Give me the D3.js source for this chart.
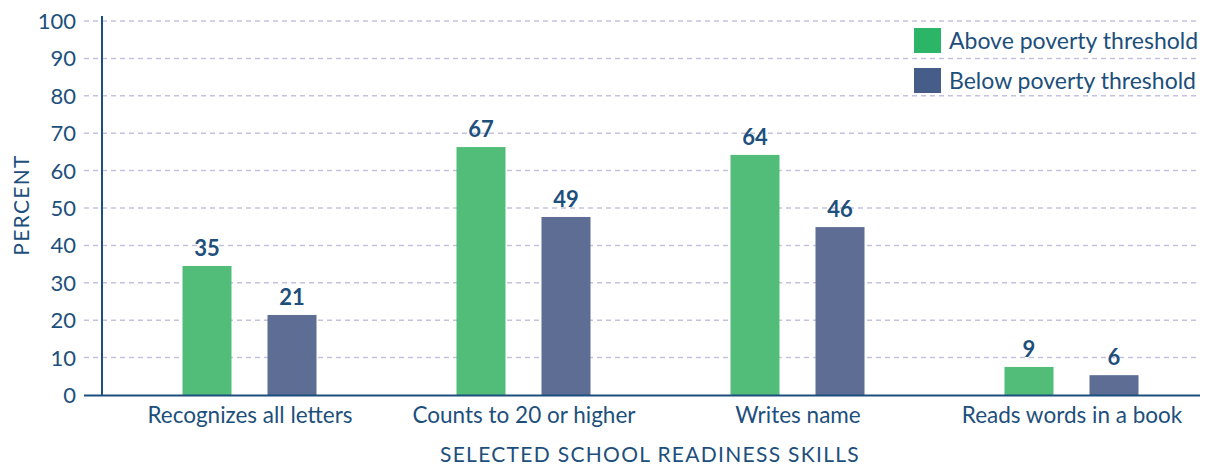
<!DOCTYPE html>
<html>
<head>
<meta charset="utf-8">
<script src="https://cdn.jsdelivr.net/npm/d3@7"></script>
<style>
  body { margin: 0; background: #fff; }
  text { font-family: Lato, "Open Sans", sans-serif; fill: #1d4f7c; }
</style>
</head>
<body>
<div id="chart"></div>
<script>
var categories = ["Recognizes all letters", "Counts to 20 or higher", "Writes name", "Reads words in a book"];
var seriesNames = ["Above poverty threshold", "Below poverty threshold"];
var aboveValues = [34.5, 66.3, 64.2, 7.5];
var belowValues = [21.4, 47.6, 44.9, 5.3];
var aboveLabels = ["35", "67", "64", "9"];
var belowLabels = ["21", "49", "46", "6"];
var yTicks = [0, 10, 20, 30, 40, 50, 60, 70, 80, 90, 100];

var barColors = ["#52bd78", "#5d6d94"];
var legendColors = ["#2db567", "#465d8a"];
var textColor = "#1d4f7c";

var svgWidth = 1205, svgHeight = 465;

var svg = d3.select("#chart").append("svg")
  .attr("width", svgWidth)
  .attr("height", svgHeight);

var yScale = d3.scaleLinear().domain([0, 100]).range([395, 21]);
var xScale = d3.scaleBand().domain(categories).range([113, 1209]);
var inner = d3.scaleOrdinal().domain([0, 1]).range([-43, 42]);
var barWidth = 49;

// gridlines
svg.append("g").selectAll("line")
  .data(yTicks.filter(d => d > 0))
  .enter().append("line")
  .attr("x1", 84).attr("x2", 1196)
  .attr("y1", d => yScale(d)).attr("y2", d => yScale(d))
  .attr("stroke", "#c3c3dc")
  .attr("stroke-width", 1.5)
  .attr("stroke-dasharray", "5,4");

// y tick labels
svg.append("g").selectAll("text")
  .data(yTicks)
  .enter().append("text")
  .attr("x", 76)
  .attr("y", d => yScale(d) + 8)
  .attr("text-anchor", "end")
  .style("font-size", "22px")
  .text(d => d);

// bars
var series = [
  { vals: aboveValues, labels: aboveLabels },
  { vals: belowValues, labels: belowLabels }
];

series.forEach(function(s, si) {
  var g = svg.append("g");
  g.selectAll("rect")
    .data(categories)
    .enter().append("rect")
    .attr("x", (d, i) => xScale(d) + xScale.bandwidth() / 2 + inner(si) - barWidth / 2)
    .attr("y", (d, i) => yScale(s.vals[i]))
    .attr("width", barWidth)
    .attr("height", (d, i) => yScale(0) - yScale(s.vals[i]))
    .attr("fill", barColors[si]);

  g.selectAll("text")
    .data(categories)
    .enter().append("text")
    .attr("x", (d, i) => xScale(d) + xScale.bandwidth() / 2 + inner(si))
    .attr("y", (d, i) => yScale(s.vals[i]) - 10)
    .attr("text-anchor", "middle")
    .style("font-size", "22px")
    .style("font-weight", "bold")
    .text((d, i) => s.labels[i]);
});

// axes lines
svg.append("line")
  .attr("x1", 102).attr("x2", 102)
  .attr("y1", 16).attr("y2", 396)
  .attr("stroke", textColor).attr("stroke-width", 2);

svg.append("line")
  .attr("x1", 84).attr("x2", 1200)
  .attr("y1", 395.5).attr("y2", 395.5)
  .attr("stroke", textColor).attr("stroke-width", 2);

// category labels
svg.append("g").selectAll("text")
  .data(categories)
  .enter().append("text")
  .attr("x", d => xScale(d) + xScale.bandwidth() / 2)
  .attr("y", 423)
  .attr("text-anchor", "middle")
  .style("font-size", "22.5px")
  .text(d => d);

// axis titles
svg.append("text")
  .attr("x", 650).attr("y", 462)
  .attr("text-anchor", "middle")
  .style("font-size", "21px")
  .style("letter-spacing", "1.3px")
  .text("SELECTED SCHOOL READINESS SKILLS");

svg.append("text")
  .attr("transform", "translate(29,205) rotate(-90)")
  .attr("text-anchor", "middle")
  .style("font-size", "21px")
  .style("letter-spacing", "1.3px")
  .text("PERCENT");

// legend
var legend = svg.append("g").selectAll("g")
  .data(seriesNames)
  .enter().append("g")
  .attr("transform", (d, i) => "translate(914," + (28 + i * 40) + ")");

legend.append("rect")
  .attr("width", 27).attr("height", 25)
  .attr("fill", (d, i) => legendColors[i]);

legend.append("text")
  .attr("x", 35).attr("y", 21)
  .style("font-size", "23px")
  .text(d => d);
</script>
</body>
</html>
